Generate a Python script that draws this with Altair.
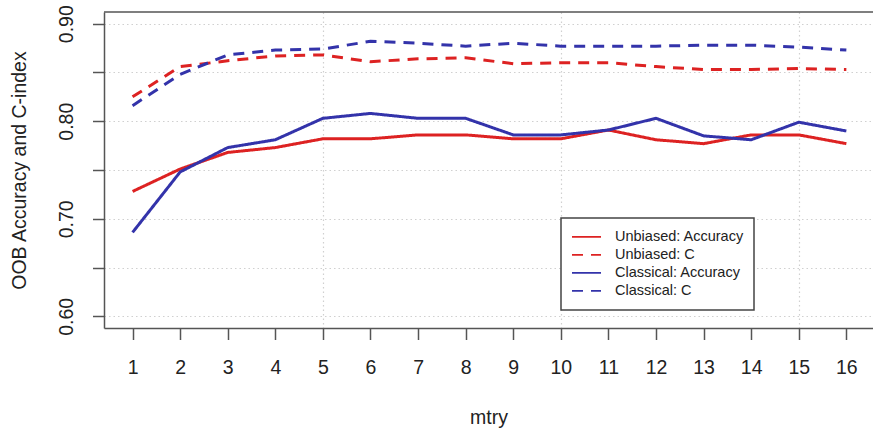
import altair as alt
import pandas as pd

mtry = list(range(1, 17))
unbiased_acc = [0.728, 0.751, 0.768, 0.773, 0.782, 0.782, 0.786, 0.786, 0.782, 0.782, 0.791, 0.781, 0.777, 0.786, 0.786, 0.777]
unbiased_c = [0.825, 0.856, 0.862, 0.867, 0.868, 0.861, 0.864, 0.865, 0.859, 0.860, 0.860, 0.856, 0.853, 0.853, 0.854, 0.853]
classical_acc = [0.686, 0.748, 0.773, 0.781, 0.803, 0.808, 0.803, 0.803, 0.786, 0.786, 0.791, 0.803, 0.785, 0.781, 0.799, 0.790]
classical_c = [0.816, 0.848, 0.868, 0.873, 0.874, 0.882, 0.880, 0.877, 0.880, 0.877, 0.877, 0.877, 0.878, 0.878, 0.876, 0.873]

series_names = ["Unbiased: Accuracy", "Unbiased: C", "Classical: Accuracy", "Classical: C"]
series_values = [unbiased_acc, unbiased_c, classical_acc, classical_c]
series_colors = ["#dd2222", "#dd2222", "#3333aa", "#3333aa"]
series_dash = [[1, 0], [11, 8], [1, 0], [11, 8]]

y_ticks = [0.60, 0.65, 0.70, 0.75, 0.80, 0.85, 0.90]

rows = []
for name, vals in zip(series_names, series_values):
    for m, v in zip(mtry, vals):
        rows.append({"mtry": m, "value": v, "series": name})
df = pd.DataFrame(rows)

FONT = "Liberation Sans"
W, H = 769, 316

x_enc = alt.X(
    "mtry:Q",
    scale=alt.Scale(domain=[0.4, 16.56], nice=False, zero=False),
    axis=alt.Axis(
        values=mtry, title="mtry", format="d",
        tickSize=11.5, labelPadding=34, labelBaseline="alphabetic",
        titleY=95, titleBaseline="alphabetic",
        grid=True,
        gridOpacity={"condition": {"test": "datum.value % 5 === 0", "value": 1}, "value": 0},
    ),
)
y_enc = alt.Y(
    "value:Q",
    scale=alt.Scale(domain=[0.588, 0.912], nice=False, zero=False),
    axis=alt.Axis(
        values=y_ticks, title="OOB Accuracy and C-index",
        labelExpr="round(datum.value*20) % 2 == 0 ? format(datum.value, '.2f') : ''",
        labelAngle=-90, labelAlign="center", labelBaseline="alphabetic",
        tickSize=11.5, labelPadding=20.5,
        titleAngle=-90, titleX=-79, titleBaseline="alphabetic",
        grid=True,
    ),
)

legend_props = dict(
    title=None, orient="none", legendX=457, legendY=206,
    symbolType="stroke", symbolSize=841, symbolStrokeWidth=1.6,
    clipHeight=17.7, rowPadding=0, labelOffset=13,
    labelFontSize=14.5, labelFont=FONT, labelColor="#222",
    padding=10, strokeColor="#444", fillColor="white",
)

lines = alt.Chart(df).mark_line(strokeWidth=3, clip=True).encode(
    x=x_enc,
    y=y_enc,
    color=alt.Color(
        "series:N",
        scale=alt.Scale(domain=series_names, range=series_colors),
        legend=alt.Legend(**legend_props),
    ),
    strokeDash=alt.StrokeDash(
        "series:N",
        scale=alt.Scale(domain=series_names, range=series_dash),
        legend=alt.Legend(**legend_props),
    ),
    order="mtry:Q",
)

top_border = alt.Chart(pd.DataFrame({"k": [0]})).mark_rule(color="#555", strokeWidth=1.5).encode(
    x=alt.value(0), x2=alt.value(W), y=alt.value(0)
)

chart = alt.layer(lines, top_border).properties(
    width=W, height=H,
    autosize=alt.AutoSizeParams(type="none"),
    padding={"left": 104, "top": 12, "right": 0, "bottom": 104},
    background="white",
).configure_view(stroke=None).configure_axis(
    labelFont=FONT, titleFont=FONT, labelFontSize=19.5, titleFontSize=19.5,
    labelColor="#222", titleColor="#222", titleFontWeight="normal",
    domainColor="#555", domainWidth=1.5, tickColor="#555", tickWidth=1.5,
    gridColor="#d0d0d0", gridDash=[1.5, 3], gridWidth=1.2,
).configure_legend(strokeWidth=1.5)

chart.save("out.html", embed_options={"renderer": "svg", "actions": False})
